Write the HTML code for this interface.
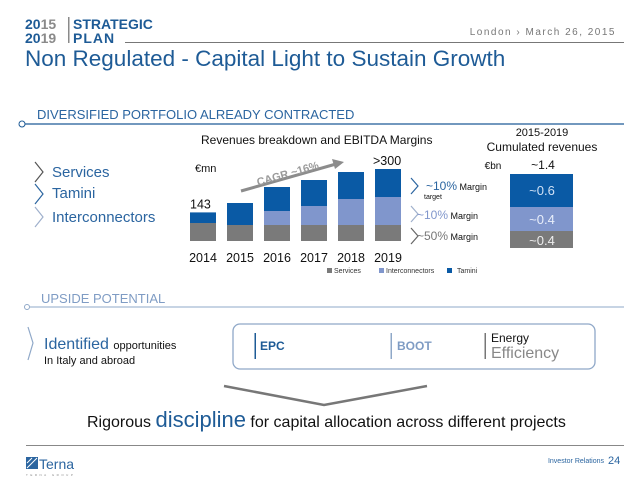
<!DOCTYPE html>
<html><head><meta charset="utf-8"><style>
html,body{margin:0;padding:0;background:#fff;}
svg{display:block;font-family:"Liberation Sans",sans-serif;}
</style></head><body>
<svg width="638" height="479" viewBox="0 0 638 479">
<g font-weight="bold" font-size="14">
<text x="25" y="29" fill="#1e5b96">20<tspan fill="#8a8a8a">15</tspan></text>
<text x="25" y="43" fill="#1e5b96">20<tspan fill="#8a8a8a">19</tspan></text>
<rect x="68" y="17" width="1.5" height="26" fill="#8a8a8a"/>
<text x="73" y="29" fill="#1e5b96">STRATEGIC</text>
<text x="73" y="43" fill="#1e5b96" letter-spacing="1">PLAN</text>
</g>
<line x1="125" y1="42.5" x2="624" y2="42.5" stroke="#777" stroke-width="1"/>
<text x="616" y="35" text-anchor="end" font-size="10" fill="#777" letter-spacing="1.5">London › March 26, 2015</text>
<text x="25" y="66" font-size="22.5" fill="#1e5b96">Non Regulated - Capital Light to Sustain Growth</text>

<text x="37" y="119" font-size="13" fill="#2b65a0">DIVERSIFIED PORTFOLIO ALREADY CONTRACTED</text>
<line x1="25" y1="124" x2="624" y2="124" stroke="#1e5b96" stroke-width="1.3"/>
<circle cx="22" cy="124" r="3" fill="#fff" stroke="#1e5b96" stroke-width="1"/>

<g font-size="15" fill="#2b65a0">
<polyline points="35,162 43,172 35,182" fill="none" stroke="#555" stroke-width="1.2"/>
<text x="52" y="177">Services</text>
<polyline points="35,184 43,194 35,204" fill="none" stroke="#2b65a0" stroke-width="1.2"/>
<text x="52" y="198">Tamini</text>
<polyline points="35,207 43,217 35,227" fill="none" stroke="#9fb0cc" stroke-width="1.2"/>
<text x="52" y="222">Interconnectors</text>
</g>

<text x="201" y="144" font-size="12" fill="#111">Revenues breakdown and EBITDA Margins</text>
<text x="195" y="172" font-size="11" fill="#111">€mn</text>
<g id="chart"></g>
<g>
<line x1="241" y1="191" x2="336" y2="164" stroke="#8c8c8c" stroke-width="3"/>
<polygon points="344,162 332,159 335,169" fill="#8c8c8c"/>
<text x="258" y="186" font-size="11" font-weight="bold" fill="#9a9a9a" transform="rotate(-16 258 186)">CAGR ~16%</text>
</g>

<g font-size="9" fill="#111">
<polyline points="411,178 418,186 411,194" fill="none" stroke="#2b65a0" stroke-width="1.2"/>
<text x="426" y="190"><tspan font-size="12" fill="#2b65a0">~10%</tspan> Margin</text>
<text x="424" y="199" font-size="7">target</text>
<polyline points="411,206 418,214 411,222" fill="none" stroke="#9fb0cc" stroke-width="1.2"/>
<text x="417" y="219"><tspan font-size="12" fill="#8096cc">~10%</tspan> Margin</text>
<polyline points="411,228 418,236 411,244" fill="none" stroke="#666" stroke-width="1.2"/>
<text x="417" y="240"><tspan font-size="12" fill="#777">~50%</tspan> Margin</text>
</g>

<g fill="#111" text-anchor="middle">
<text x="542" y="136" font-size="11">2015-2019</text>
<text x="542" y="151" font-size="12">Cumulated revenues</text>
<text x="493" y="169" font-size="10" text-anchor="middle">€bn</text>
<text x="543" y="169" font-size="12">~1.4</text>
<rect x="510" y="174" width="63" height="33" fill="#0a5aa5"/>
<text x="542" y="195" font-size="13" fill="#cfe0f5">~0.6</text>
<rect x="510" y="207" width="63" height="24" fill="#8096cc"/>
<text x="542" y="224" font-size="13" fill="#e8eefa">~0.4</text>
<rect x="510" y="231" width="63" height="17" fill="#7a7a7a"/>
<text x="542" y="245" font-size="13" fill="#eee">~0.4</text>
</g>

<text x="41" y="303" font-size="13" fill="#7f9cc4">UPSIDE POTENTIAL</text>
<line x1="30" y1="307" x2="624" y2="307" stroke="#8fa8c8" stroke-width="1"/>
<circle cx="27" cy="307" r="2.5" fill="#fff" stroke="#8fa8c8" stroke-width="1"/>

<polyline points="28,327 33,343 28,360" fill="none" stroke="#8fa8c8" stroke-width="1.2"/>
<text x="44" y="349" font-size="16" fill="#2b65a0">Identified <tspan font-size="11" fill="#111">opportunities</tspan></text>
<text x="44" y="364" font-size="11" fill="#111">In Italy and abroad</text>

<rect x="233" y="324" width="362" height="45" rx="7" fill="#fff" stroke="#8fa8c8" stroke-width="1.3"/>
<rect x="254.5" y="333" width="1.5" height="26" fill="#1e5b96"/>
<text x="260" y="350" font-size="12" font-weight="bold" fill="#1e5b96">EPC</text>
<rect x="390.5" y="333" width="1.5" height="26" fill="#8fa8c8"/>
<text x="397" y="350" font-size="12" font-weight="bold" fill="#7f9cc4">BOOT</text>
<rect x="484.5" y="333" width="1.5" height="26" fill="#777"/>
<text x="491" y="342" font-size="12" fill="#111">Energy</text>
<text x="491" y="358" font-size="16" fill="#888">Efficiency</text>

<polyline points="224,386 324,405 427,386" fill="none" stroke="#777" stroke-width="2.5"/>
<text x="87" y="427" font-size="16" fill="#111">Rigorous <tspan font-size="22" fill="#1e5b96">discipline</tspan> for capital allocation across different projects</text>

<line x1="26" y1="445.5" x2="624" y2="445.5" stroke="#888" stroke-width="1"/>
<g>
<rect x="26" y="457" width="12" height="12" fill="#2b65a0"/>
<line x1="27" y1="468" x2="37" y2="458" stroke="#fff" stroke-width="1"/>
<line x1="27" y1="463" x2="32" y2="458" stroke="#fff" stroke-width="1"/>
<text x="39" y="469" font-size="14" fill="#2b65a0">Terna</text>
<text x="26" y="476" font-size="3" fill="#888" letter-spacing="2.5">TERNA GROUP</text>
</g>
<text x="604" y="463" text-anchor="end" font-size="7" fill="#2b65a0">Investor Relations</text>
<text x="608" y="464" font-size="11" fill="#2b65a0">24</text>
</svg>
<script>
const years = ["2014","2015","2016","2017","2018","2019"];
const services = [90, 80, 80, 80, 80, 80];
const interconnectors = [0, 0, 70, 95, 130, 140];
const tamini = [53, 110, 120, 130, 135, 140];
const valueLabels = ["143", "", "", "", "", ">300"];
const legendLabels = ["Services","Interconnectors","Tamini"];

const NS = "http://www.w3.org/2000/svg";
const g = document.getElementById('chart');
const baseY = 241, scale = 0.2, x0 = 190, step = 37, bw = 26;
const colors = ["#7a7a7a","#8096cc","#0a5aa5"];
function xPos(i){ return x0 + i*step; }
function yLen(v){ return v*scale; }
function mk(tag, attrs){ const e = document.createElementNS(NS, tag); for (const k in attrs) e.setAttribute(k, attrs[k]); g.appendChild(e); return e; }
const series = [services, interconnectors, tamini];
years.forEach((yr, i) => {
  let y = baseY;
  series.forEach((s, j) => {
    const h = yLen(s[i]);
    if (h > 0) {
      const r = mk('rect', {x: xPos(i), y: y - h, width: bw, height: h, fill: colors[j]});
      
      
    }
    y -= h;
  });
  const t = mk('text', {x: xPos(i) + bw/2, y: 262, 'text-anchor': 'middle', 'font-size': 12.5, fill: '#111'});
  t.textContent = yr;
  
  
  if (valueLabels[i]) {
    const v = mk('text', {x: xPos(i) + (i === 0 ? 0 : -2), y: y - 4, 'font-size': 12.5, fill: '#111'});
    v.textContent = valueLabels[i];
    
    
  }
});
const legX = [327, 379, 447];
legendLabels.forEach((l, j) => {
  const r = mk('rect', {x: legX[j], y: 268, width: 5, height: 5, fill: colors[j]});
  
  
  const t = mk('text', {x: legX[j] + (j === 2 ? 10 : 7), y: 273, 'font-size': 7, fill: '#333'});
  t.textContent = l;
  
  
});
</script>
</body></html>
